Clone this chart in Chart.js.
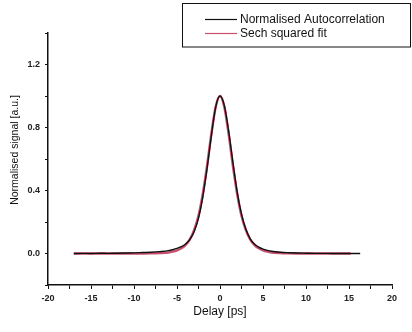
<!DOCTYPE html>
<html>
<head>
<meta charset="utf-8">
<script src="https://cdn.jsdelivr.net/npm/chart.js@4.4.1/dist/chart.umd.min.js"></script>
<style>
  html, body { margin: 0; padding: 0; background: #fff; }
  canvas { display: block; }
</style>
</head>
<body>
<canvas id="myChart" width="412" height="332"></canvas>
<script>
// measured autocorrelation trace
const delayData = [-17, -16, -15, -14, -13, -12, -11, -10, -9, -8, -7, -6, -5.5, -5, -4.5, -4, -3.5, -3, -2.5, -2, -1.5, -1, -0.5, 0,
  0.5, 1, 1.5, 2, 2.5, 3, 3.5, 4, 4.5, 5, 5.5, 6, 7, 8, 9, 10, 11, 12, 13, 14, 15, 16.3];
const signalData = [0.000, 0.001, 0.000, 0.002, 0.001, 0.002, 0.003, 0.004, 0.006, 0.008, 0.012, 0.018, 0.024, 0.032, 0.043, 0.060, 0.090, 0.140, 0.225, 0.360, 0.540, 0.750, 0.930, 1.000,
  0.940, 0.780, 0.580, 0.390, 0.250, 0.155, 0.095, 0.060, 0.040, 0.028, 0.020, 0.014, 0.008, 0.005, 0.003, 0.002, 0.001, 0.001, 0.000, 0.000, 0.000, 0.000];

// sech^2 fit
const delayFit = [-17, -14, -11, -9, -8, -7, -6, -5.5, -5, -4.5, -4, -3.5, -3, -2.5, -2, -1.5, -1, -0.5, 0,
  0.5, 1, 1.5, 2, 2.5, 3, 3.5, 4, 4.5, 5, 5.5, 6, 7, 8, 9, 11, 13, 15.2];
const signalFit = [0.000, 0.000, 0.000, 0.000, 0.001, 0.003, 0.007, 0.012, 0.020, 0.033, 0.055, 0.090, 0.150, 0.240, 0.378, 0.558, 0.761, 0.932, 1.000,
  0.932, 0.761, 0.558, 0.378, 0.240, 0.150, 0.090, 0.055, 0.033, 0.020, 0.012, 0.007, 0.003, 0.001, 0.000, 0.000, 0.000, 0.000];

const seriesNames = ['Normalised Autocorrelation', 'Sech squared fit'];
const seriesColors = ['#111111', '#c8506e'];

const xTitle = 'Delay [ps]';
const yTitle = 'Normalised signal [a.u.]';

function toPoints(xs, ys) {
  return xs.map((x, i) => ({ x: x, y: ys[i] }));
}

// boxed legend in the top right corner + rotated y title
const extras = {
  id: 'extras',
  afterDraw(chart) {
    const ctx = chart.ctx;
    ctx.save();
    ctx.strokeStyle = '#111';
    ctx.lineWidth = 1;
    ctx.strokeRect(182.5, 3.5, 228, 43.5);
    ctx.font = '12px "Liberation Sans", Arial, sans-serif';
    ctx.textBaseline = 'middle';
    ctx.textAlign = 'left';
    const rows = [19, 33];
    seriesNames.forEach((name, i) => {
      ctx.strokeStyle = seriesColors[i];
      ctx.lineWidth = 1.2;
      ctx.beginPath();
      ctx.moveTo(205, rows[i] + 0.5);
      ctx.lineTo(237, rows[i] + 0.5);
      ctx.stroke();
      ctx.fillStyle = '#111';
      ctx.fillText(name, 240, rows[i] + 1);
    });

    ctx.translate(15, 150);
    ctx.rotate(-Math.PI / 2);
    ctx.textAlign = 'center';
    ctx.font = '10.5px "Liberation Sans", Arial, sans-serif';
    ctx.fillText(yTitle, 0, 0);
    ctx.restore();
  }
};

const ctx = document.getElementById('myChart').getContext('2d');
const myChart = new Chart(ctx, {
  type: 'scatter',
  data: {
    datasets: [
      {
        label: seriesNames[1],
        data: toPoints(delayFit, signalFit),
        showLine: true,
        borderColor: seriesColors[1],
        borderWidth: 2.5,
        pointRadius: 0,
        cubicInterpolationMode: 'monotone',
        order: 2,
      },
      {
        label: seriesNames[0],
        data: toPoints(delayData, signalData),
        showLine: true,
        borderColor: seriesColors[0],
        borderWidth: 1.4,
        pointRadius: 0,
        cubicInterpolationMode: 'monotone',
        order: 1,
      },
    ],
  },
  options: {
    responsive: false,
    animation: false,
    layout: { padding: { top: 33, right: 20, left: 0, bottom: 0 } },
    plugins: {
      legend: { display: false },
      tooltip: { enabled: false },
    },
    scales: {
      x: {
        type: 'linear',
        min: -20,
        max: 20,
        afterFit: (scale) => { scale.height = 47; },
        border: { color: '#111', width: 1.5 },
        grid: { drawOnChartArea: false, drawTicks: true, tickLength: 4, color: '#111' },
        ticks: {
          stepSize: 2.5,
          autoSkip: false,
          maxRotation: 0,
          padding: 4,
          color: '#222',
          font: { family: '"Liberation Sans", Arial, sans-serif', size: 9, weight: 'bold' },
          callback: (v) => (v % 5 === 0 ? String(v) : ''),
        },
        title: {
          display: true,
          text: xTitle,
          color: '#111',
          font: { family: '"Liberation Sans", Arial, sans-serif', size: 12 },
          padding: { top: 0, bottom: 13 },
        },
      },
      y: {
        min: -0.2,
        max: 1.4,
        afterFit: (scale) => { scale.width = 48; },
        border: { color: '#111', width: 1.5 },
        grid: { drawOnChartArea: false, drawTicks: true, tickLength: 3, color: '#111' },
        ticks: {
          stepSize: 0.2,
          autoSkip: false,
          padding: 5,
          color: '#222',
          font: { family: '"Liberation Sans", Arial, sans-serif', size: 9, weight: 'bold' },
          callback: (v) => {
            const k = Math.round(v * 10);
            return (k >= 0 && k <= 12 && k % 4 === 0) ? (k / 10).toFixed(1) : '';
          },
        },
      },
    },
  },
  plugins: [extras],
});
</script>
</body>
</html>
